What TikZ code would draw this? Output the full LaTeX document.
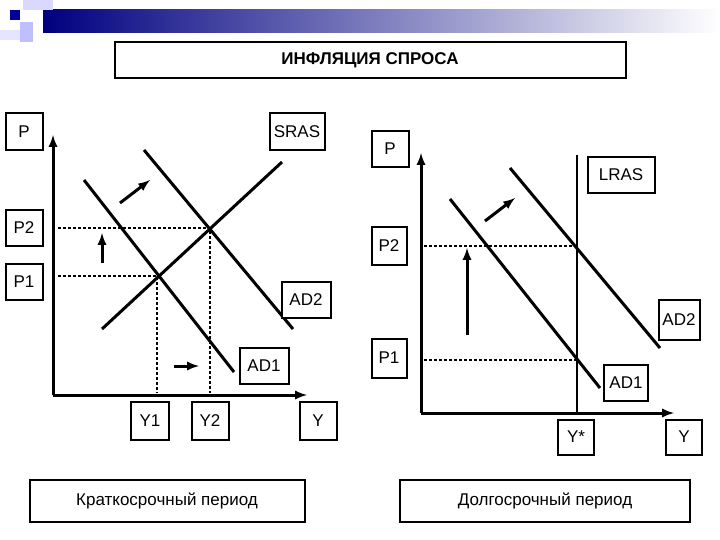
\documentclass[tikz,border=0pt]{standalone}
\usepackage{fontspec}
\setmainfont{Liberation Sans}
\begin{document}
\begin{tikzpicture}[x=1pt,y=-1pt,
  lab/.style={draw,line width=2pt,inner sep=0pt,font=\fontsize{17}{19}\selectfont},
  curve/.style={line width=3pt},
  axis/.style={line width=3pt,-latex},
  guide/.style={line width=2.4pt,dash pattern=on 3pt off 2pt},
  movearrow/.style={line width=3pt,-latex}]
\useasboundingbox (0,0) rectangle (720,540);
% decoration
\shade[left color=blue!50!black,right color=white] (43,10) rectangle (720,33);
\fill[blue!60!black] (10,10) rectangle (20,20);
\fill[blue!15] (23,0) rectangle (53,10);
\fill[blue!25] (20,22) rectangle (33,42);
\fill[blue!10] (0,30) rectangle (20,40);
% title
\node[lab,minimum width=511,minimum height=36,font=\bfseries\fontsize{17}{19}\selectfont] (title) at (370,60) {ИНФЛЯЦИЯ СПРОСА};
% ---------- left graph ----------
\coordinate (lo) at (53,395);
\coordinate (ly) at (53,135);
\coordinate (lx) at (307,395);
\draw[axis] (lo) -- (ly);
\draw[axis] (lo) -- (lx);
\coordinate (s1) at (102,329); \coordinate (s2) at (282,162);
\coordinate (a1s) at (84,180); \coordinate (a1e) at (234,372);
\coordinate (a2s) at (144,150); \coordinate (a2e) at (293,329);
\draw[curve] (s1) -- (s2);
\draw[curve] (a1s) -- (a1e);
\draw[curve] (a2s) -- (a2e);
\coordinate (lp2) at (58,228); \coordinate (e2) at (210,228);
\coordinate (lp1) at (58,276); \coordinate (e1) at (157,276);
\coordinate (b1) at (157,393); \coordinate (b2) at (210,393);
\draw[guide] (lp2) -- (e2) -- (b2);
\draw[guide] (lp1) -- (e1) -- (b1);
\coordinate (da) at (120,203); \coordinate (db) at (150,180);
\draw[movearrow] (da) -- (db);
\coordinate (ua) at (102,263); \coordinate (ub) at (102,233);
\draw[movearrow] (ua) -- (ub);
\coordinate (ra) at (174,366); \coordinate (rb) at (199,366);
\draw[movearrow] (ra) -- (rb);
\node[lab,minimum width=37,minimum height=37] (lP) at (24,132) {P};
\node[lab,minimum width=55,minimum height=37] (lS) at (297,132) {SRAS};
\node[lab,minimum width=37,minimum height=36] (lP2) at (24,228) {P2};
\node[lab,minimum width=37,minimum height=36] (lP1) at (24,282) {P1};
\node[lab,minimum width=38,minimum height=38] (lY1) at (150,421) {Y1};
\node[lab,minimum width=37,minimum height=38] (lY2) at (210,421) {Y2};
\node[lab,minimum width=37,minimum height=38] (lY) at (318,421) {Y};
\node[lab,fill=white,minimum width=49,minimum height=36] (lAD2) at (306,300) {AD2};
\node[lab,fill=white,minimum width=49,minimum height=36] (lAD1) at (264,366) {AD1};
% ---------- right graph ----------
\coordinate (ro) at (421,413);
\coordinate (ry) at (421,153);
\coordinate (rx) at (674,413);
\draw[axis] (ro) -- (ry);
\draw[axis] (ro) -- (rx);
\coordinate (lr1) at (577,155); \coordinate (lr2) at (577,413);
\draw[line width=2.4pt] (lr1) -- (lr2);
\coordinate (r1s) at (450,199); \coordinate (r1e) at (600,388);
\coordinate (r2s) at (510,168); \coordinate (r2e) at (660,348);
\draw[curve] (r1s) -- (r1e);
\draw[curve] (r2s) -- (r2e);
\coordinate (rp2) at (424,246); \coordinate (rq2) at (577,246);
\coordinate (rp1) at (424,360); \coordinate (rq1) at (577,360);
\draw[guide] (rp2) -- (rq2);
\draw[guide] (rp1) -- (rq1);
\coordinate (rda) at (485,221); \coordinate (rdb) at (515,198);
\draw[movearrow] (rda) -- (rdb);
\coordinate (rua) at (467,335); \coordinate (rub) at (467,248);
\draw[movearrow] (rua) -- (rub);
\node[lab,minimum width=37,minimum height=36] (rP) at (390,149) {P};
\node[lab,minimum width=67,minimum height=36] (rL) at (621,175) {LRAS};
\node[lab,minimum width=35,minimum height=37] (rP2) at (389,246) {P2};
\node[lab,minimum width=35,minimum height=39] (rP1) at (389,358) {P1};
\node[lab,minimum width=41,minimum height=40] (rAD2) at (679,320) {AD2};
\node[lab,fill=white,minimum width=44,minimum height=36] (rAD1) at (626,383) {AD1};
\node[lab,minimum width=36,minimum height=35] (rYs) at (576,437) {Y*};
\node[lab,minimum width=36,minimum height=35] (rY) at (684,437) {Y};
% bottom
\node[lab,minimum width=275,minimum height=42] (short) at (167,501) {Краткосрочный период};
\node[lab,minimum width=290,minimum height=42] (long) at (545,501) {Долгосрочный период};
\end{tikzpicture}
\end{document}
